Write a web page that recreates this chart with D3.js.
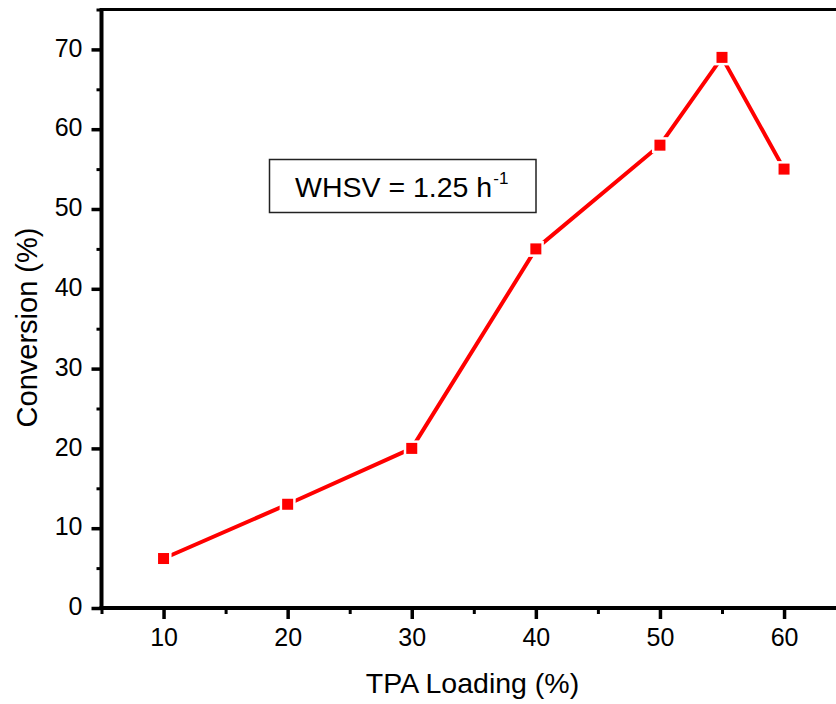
<!DOCTYPE html>
<html>
<head>
<meta charset="utf-8">
<script src="https://cdn.jsdelivr.net/npm/d3@7"></script>
<style>
  html, body { margin: 0; padding: 0; background: #fff; }
  svg { display: block; }
  text { font-family: "Liberation Sans", Arial, Helvetica, sans-serif; fill: #000; }
</style>
</head>
<body>
<svg id="chart" width="836" height="704"></svg>
<script>
// ---- data ----
const loading = [10, 20, 30, 40, 50, 55, 60];
const conversion = [6.2, 13, 20, 45, 58, 69, 55];
const xTickValues = [10, 20, 30, 40, 50, 60];
const xMinorTicks = [5, 15, 25, 35, 45, 55];
const yTickValues = [0, 10, 20, 30, 40, 50, 60, 70];
const yMinorTicks = [5, 15, 25, 35, 45, 55, 65, 75];
const xTitle = "TPA Loading (%)";
const yTitle = "Conversion (%)";
const noteText = "WHSV = 1.25 h";
const noteSup = "-1";

const svg = d3.select("#chart");
const W = 836, H = 704;

const x = d3.scaleLinear().domain([5, 65]).range([101.5, 101.5 + 60 * 12.41]);
const y = d3.scaleLinear().domain([0, 75]).range([608, 9.5]);

const x0 = x(5), yBottom = y(0), yTop = y(75);
const FONT = "Liberation Sans, Arial, sans-serif";

// top frame line
svg.append("line")
  .attr("x1", x0).attr("x2", W + 5)
  .attr("y1", yTop).attr("y2", yTop)
  .attr("stroke", "#000").attr("stroke-width", 3);

// x axis
const xAxis = d3.axisBottom(x).tickValues(xTickValues).tickSize(11).tickPadding(9).tickFormat(d3.format("d"));
const gx = svg.append("g").attr("transform", `translate(0,${yBottom})`).call(xAxis);
gx.select(".domain").remove();
gx.selectAll(".tick line").attr("stroke", "#000").attr("stroke-width", 3.5);
gx.selectAll(".tick text").attr("font-size", 25).attr("font-family", FONT).attr("fill", "#000");
const gxm = svg.append("g").attr("transform", `translate(0,${yBottom})`)
  .call(d3.axisBottom(x).tickValues(xMinorTicks).tickSize(6).tickFormat(""));
gxm.select(".domain").remove();
gxm.selectAll(".tick line").attr("stroke", "#000").attr("stroke-width", 3);

// y axis
const yAxis = d3.axisLeft(y).tickValues(yTickValues).tickSize(10).tickPadding(9).tickFormat(d3.format("d"));
const gy = svg.append("g").attr("transform", `translate(${x0},0)`).call(yAxis);
gy.select(".domain").remove();
gy.selectAll(".tick line").attr("stroke", "#000").attr("stroke-width", 3.5);
gy.selectAll(".tick text").attr("font-size", 25).attr("font-family", FONT).attr("fill", "#000").attr("dy", "0.27em");
const gym = svg.append("g").attr("transform", `translate(${x0},0)`)
  .call(d3.axisLeft(y).tickValues(yMinorTicks).tickSize(5).tickFormat(""));
gym.select(".domain").remove();
gym.selectAll(".tick line").attr("stroke", "#000").attr("stroke-width", 3);

// axis lines
svg.append("line").attr("x1", x0).attr("x2", x0).attr("y1", yTop - 1.5).attr("y2", yBottom + 2)
  .attr("stroke", "#000").attr("stroke-width", 4);
svg.append("line").attr("x1", x0 - 2).attr("x2", W + 5).attr("y1", yBottom).attr("y2", yBottom)
  .attr("stroke", "#000").attr("stroke-width", 4);

// titles
svg.append("text").attr("x", 472.5).attr("y", 693).attr("text-anchor", "middle")
  .attr("font-size", 28.5).text(xTitle);
svg.append("text").attr("transform", `translate(37,327.5) rotate(-90)`).attr("text-anchor", "middle")
  .attr("font-size", 29).text(yTitle);

// line
const pts = loading.map((d, i) => [d, conversion[i]]);
svg.append("path").datum(pts)
  .attr("fill", "none").attr("stroke", "#ff0000").attr("stroke-width", 4)
  .attr("d", d3.line().x(d => x(d[0])).y(d => y(d[1])));

// markers
const ms = 11;
svg.selectAll("rect.marker").data(pts).enter().append("rect")
  .attr("class", "marker")
  .attr("x", d => x(d[0]) - ms / 2).attr("y", d => y(d[1]) - ms / 2)
  .attr("width", ms).attr("height", ms)
  .attr("fill", "#ff0000").attr("stroke", "#fff").attr("stroke-width", 5).attr("paint-order", "stroke");

// note box
svg.append("rect").attr("x", 269.5).attr("y", 159.5).attr("width", 266.5).attr("height", 53)
  .attr("fill", "#fff").attr("stroke", "#222").attr("stroke-width", 1.5);
const note = svg.append("text").attr("x", 295).attr("y", 197).attr("font-size", 28.5);
note.append("tspan").text(noteText);
note.append("tspan").attr("font-size", 17).attr("dy", -13).attr("dx", 1).text(noteSup);
</script>
</body>
</html>
